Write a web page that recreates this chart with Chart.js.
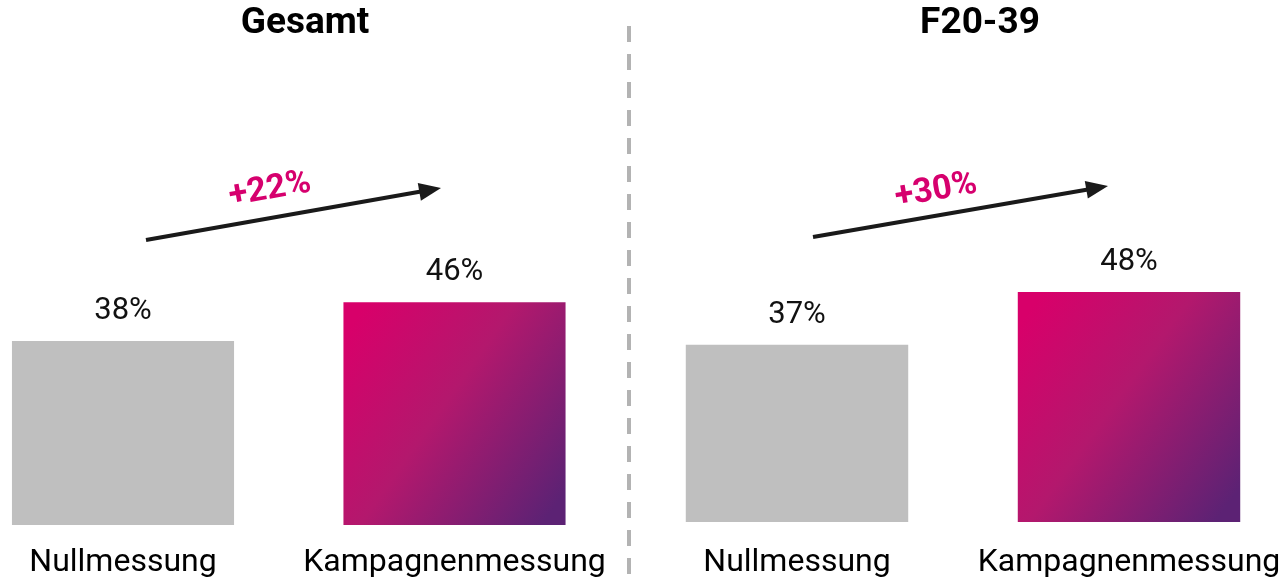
<!DOCTYPE html>
<html>
<head>
<meta charset="utf-8">
<script src="https://cdn.jsdelivr.net/npm/chart.js@4.4.1/dist/chart.umd.min.js"></script>
<style>
  html, body { margin: 0; padding: 0; background: #fff; overflow: hidden; }
  #wrap { position: relative; width: 1281px; height: 581px; }
  #wrap canvas { position: absolute; left: 0; top: 0; }
</style>
</head>
<body>
<div id="wrap">
  <canvas id="gesamt" width="1281" height="581"></canvas>
  <canvas id="f2039" width="1281" height="581"></canvas>
</div>
<script>
const categories = ['Nullmessung', 'Kampagnenmessung'];
const gesamtValues = [38, 46];
const f2039Values = [37, 48];
const panelTitles = ['Gesamt', 'F20-39'];
const changeLabels = ['+22%', '+30%'];

const GREY = '#bfbfbf';
const FONT = 'Roboto, "Noto Sans", sans-serif';
const BAR_PCT = 0.67;

// pink -> purple diagonal fill for the campaign bar
function barFill(ctx) {
  if (ctx.dataIndex === 0) return GREY;
  const chart = ctx.chart;
  const x = chart.scales.x, y = chart.scales.y;
  if (!chart.chartArea || !x || !y) return '#d6006c';
  const cx = x.getPixelForValue(ctx.dataIndex);
  const half = (x.getPixelForValue(1) - x.getPixelForValue(0)) * BAR_PCT / 2;
  const top = y.getPixelForValue(ctx.raw);
  const bottom = y.getPixelForValue(0);
  const h = bottom - top;
  const g = chart.ctx.createLinearGradient(cx - half, top + h * 0.15, cx + half, bottom - h * 0.15);
  g.addColorStop(0, '#d8006a');
  g.addColorStop(0.45, '#b3186d');
  g.addColorStop(1, '#5c2274');
  return g;
}

const decor = {
  id: 'decor',
  afterDatasetsDraw(chart, args, opts) {
    const c = chart.ctx;
    c.save();

    // value labels
    const meta = chart.getDatasetMeta(0);
    c.font = '31px ' + FONT;
    c.fillStyle = '#111';
    c.textAlign = 'center';
    c.textBaseline = 'middle';
    meta.data.forEach((bar, i) => {
      c.fillText(chart.data.datasets[0].data[i] + '%', bar.x, bar.y - 30);
    });

    // panel title
    c.font = 'bold 37px ' + FONT;
    c.fillStyle = '#000';
    c.fillText(opts.title, opts.titleX, 24);

    // arrow
    const [x0, y0] = opts.from, [x1, y1] = opts.to;
    const ang = Math.atan2(y1 - y0, x1 - x0);
    c.strokeStyle = '#1a1a1a';
    c.fillStyle = '#1a1a1a';
    c.lineWidth = 4;
    c.beginPath();
    c.moveTo(x0, y0);
    c.lineTo(x1 - 16 * Math.cos(ang), y1 - 16 * Math.sin(ang));
    c.stroke();
    c.save();
    c.translate(x1, y1);
    c.rotate(ang);
    c.beginPath();
    c.moveTo(0, 0);
    c.lineTo(-22, -9);
    c.lineTo(-22, 9);
    c.closePath();
    c.fill();
    c.restore();

    // change label
    c.save();
    c.translate(opts.labelAt[0], opts.labelAt[1]);
    c.rotate(ang);
    c.font = 'bold 34px ' + FONT;
    c.fillStyle = '#d6006e';
    c.fillText(opts.label, 0, 0);
    c.restore();

    // dashed separator
    if (opts.separator) {
      c.strokeStyle = '#b3b3b3';
      c.lineWidth = 4;
      c.setLineDash([16, 12]);
      c.beginPath();
      c.moveTo(opts.separator, 26);
      c.lineTo(opts.separator, 581);
      c.stroke();
    }
    c.restore();
  }
};

function makeChart(id, values, pad, tickPad, decorOpts) {
  return new Chart(document.getElementById(id), {
    type: 'bar',
    data: {
      labels: categories,
      datasets: [{
        data: values,
        backgroundColor: barFill,
        borderWidth: 0,
        barPercentage: BAR_PCT,
        categoryPercentage: 1,
        clip: false
      }]
    },
    options: {
      responsive: false,
      animation: false,
      layout: { padding: pad },
      plugins: {
        legend: { display: false },
        tooltip: { enabled: false },
        decor: decorOpts
      },
      scales: {
        x: {
          offset: false,
          grid: { display: false, drawTicks: false },
          border: { display: false },
          ticks: {
            color: '#000',
            font: { family: FONT, size: 32 },
            padding: tickPad,
            maxRotation: 0,
            autoSkip: false
          },
          // labels may run past the plot edges, don't let them squeeze it
          afterFit(scale) {
            scale.paddingLeft = 0;
            scale.paddingRight = 0;
          }
        },
        y: { display: false, min: 0, max: 100 }
      }
    },
    plugins: [decor]
  });
}

makeChart('gesamt', gesamtValues, { left: 123, right: 826.5, top: 41, bottom: -20.4 }, 19, {
  title: panelTitles[0], titleX: 305,
  from: [146, 240], to: [441, 188], labelAt: [270, 190], label: changeLabels[0],
  separator: 629
});
makeChart('f2039', f2039Values, { left: 797, right: 152, top: 43, bottom: -23.4 }, 22, {
  title: panelTitles[1], titleX: 980,
  from: [813, 237], to: [1108, 186], labelAt: [936, 191], label: changeLabels[1]
});
</script>
</body>
</html>
